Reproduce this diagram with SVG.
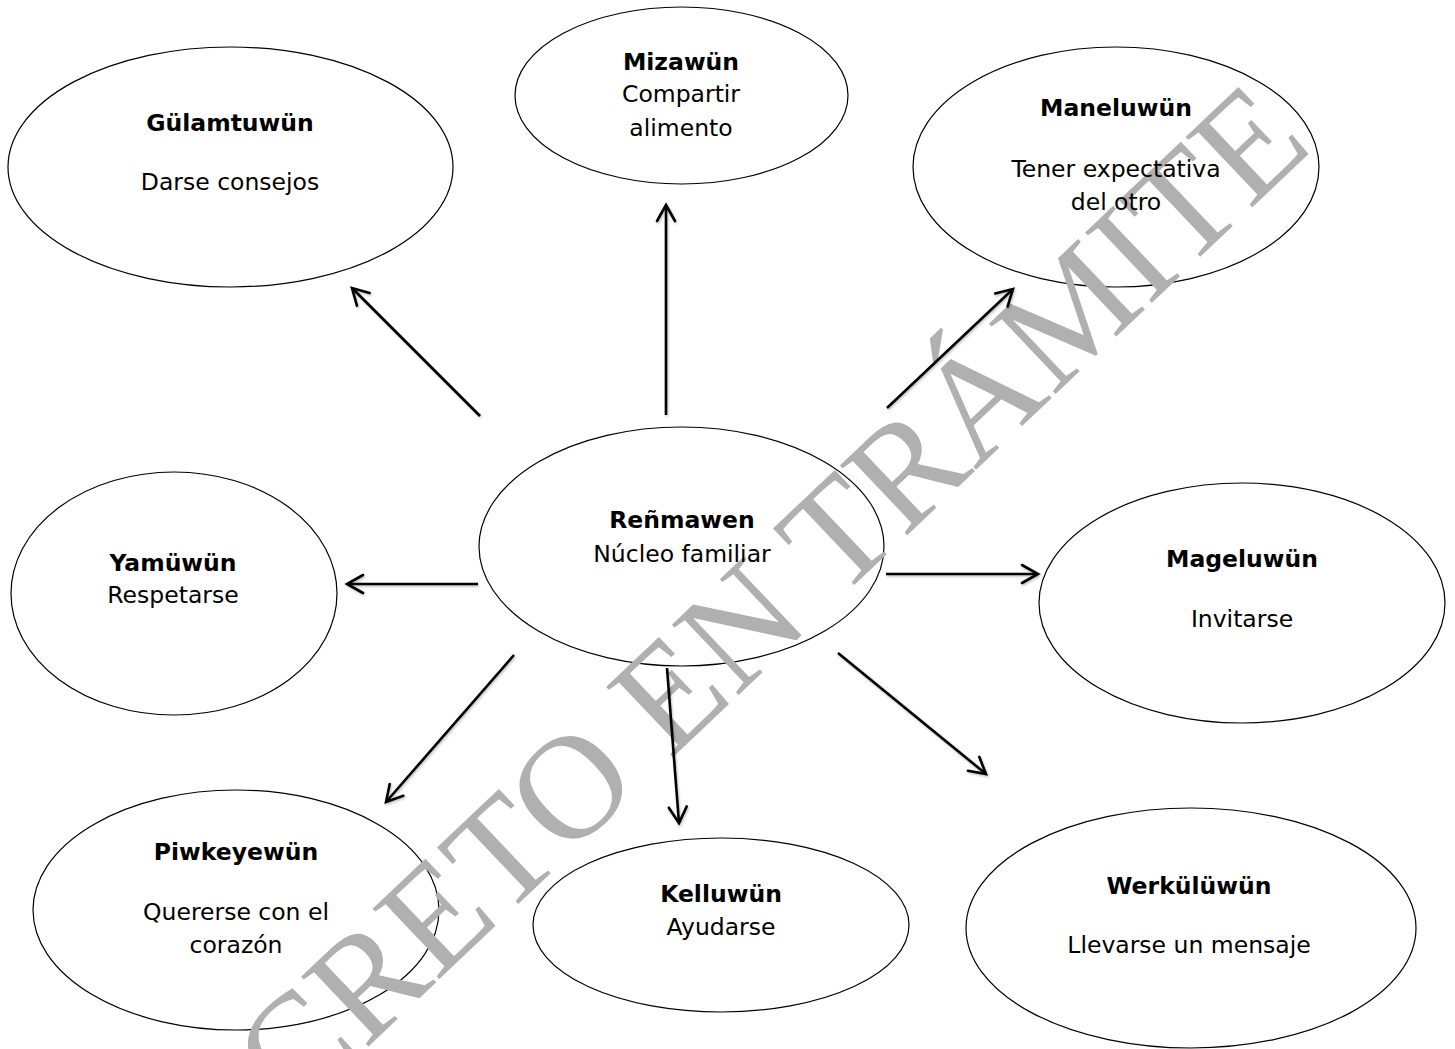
<svg xmlns="http://www.w3.org/2000/svg" width="1455" height="1049" viewBox="0 0 1455 1049">
<defs>
<style>
.node ellipse{fill:#fff;stroke:#000;stroke-width:1.2}
.t{font-family:"DejaVu Sans","Verdana",sans-serif;font-size:23.5px;fill:#000;text-anchor:middle}
.b{font-weight:bold}
.conn line{stroke:#000;stroke-width:2.6;marker-end:url(#arr);filter:url(#sh)}
.wm{font-family:"Liberation Serif","Times New Roman",serif;font-size:148px;fill:#b0b0b0;text-anchor:middle}
</style>
<marker id="arr" markerUnits="userSpaceOnUse" markerWidth="30" markerHeight="30" viewBox="-20 -15 25 30" refX="0" refY="0" orient="auto">
<path d="M-16,-9 L0,0 L-16,9" fill="none" stroke="#000" stroke-width="2.6" stroke-linecap="round" stroke-linejoin="miter"/>
</marker>
<filter id="sh" filterUnits="userSpaceOnUse" x="0" y="0" width="1455" height="1049">
<feDropShadow dx="1" dy="1.5" stdDeviation="1.2" flood-color="#000" flood-opacity="0.25"/>
</filter>
</defs>
<rect width="1455" height="1049" fill="#fff"/>
<g id="shapes">
<g id="n-gulamtuwun" class="node"><ellipse cx="230.5" cy="167" rx="222.5" ry="120"/></g>
<g id="n-mizawun" class="node"><ellipse cx="681.5" cy="95.5" rx="166.5" ry="88.5"/></g>
<g id="n-maneluwun" class="node"><ellipse cx="1116" cy="167" rx="203" ry="120"/></g>
<g id="n-renmawen" class="node"><ellipse cx="681.5" cy="546.5" rx="202.5" ry="119.5"/></g>
<g id="n-yamuwun" class="node"><ellipse cx="174" cy="593.5" rx="163" ry="121.5"/></g>
<g id="n-mageluwun" class="node"><ellipse cx="1242" cy="603" rx="203" ry="120"/></g>
<g id="n-piwkeyewun" class="node"><ellipse cx="236" cy="910" rx="203" ry="120"/></g>
<g id="n-kelluwun" class="node"><ellipse cx="721" cy="925" rx="188" ry="87"/></g>
<g id="n-werkuluwun" class="node"><ellipse cx="1191" cy="928" rx="225" ry="120"/></g>
</g>
<text class="wm" x="804" y="633" transform="rotate(-43.5 804 633)">CRETO EN TRÁMITE</text>
<g id="labels">
<text class="t b" x="230" y="131">Gülamtuwün</text>
<text class="t" x="230" y="190">Darse consejos</text>
<text class="t b" x="681" y="70">Mizawün</text>
<text class="t" x="681" y="102">Compartir</text>
<text class="t" x="681" y="136">alimento</text>
<text class="t b" x="1116" y="116">Maneluwün</text>
<text class="t" x="1116" y="177">Tener expectativa</text>
<text class="t" x="1116" y="210">del otro</text>
<text class="t b" x="682" y="528">Reñmawen</text>
<text class="t" x="682" y="562">Núcleo familiar</text>
<text class="t b" x="173" y="571">Yamüwün</text>
<text class="t" x="173" y="603">Respetarse</text>
<text class="t b" x="1242" y="567">Mageluwün</text>
<text class="t" x="1242" y="627">Invitarse</text>
<text class="t b" x="236" y="860">Piwkeyewün</text>
<text class="t" x="236" y="920">Quererse con el</text>
<text class="t" x="236" y="953">corazón</text>
<text class="t b" x="721" y="902">Kelluwün</text>
<text class="t" x="721" y="935">Ayudarse</text>
<text class="t b" x="1189" y="894">Werkülüwün</text>
<text class="t" x="1189" y="953">Llevarse un mensaje</text>
</g>
<g id="connectors" class="conn">
<line x1="480" y1="416" x2="352" y2="288"/>
<line x1="666" y1="415" x2="666" y2="205"/>
<line x1="887" y1="408" x2="1013" y2="289"/>
<line x1="478" y1="584" x2="347" y2="584"/>
<line x1="886" y1="574" x2="1038" y2="574"/>
<line x1="514" y1="655" x2="386" y2="802"/>
<line x1="667" y1="668" x2="679" y2="823"/>
<line x1="838" y1="653" x2="986" y2="774"/>
</g>
</svg>
